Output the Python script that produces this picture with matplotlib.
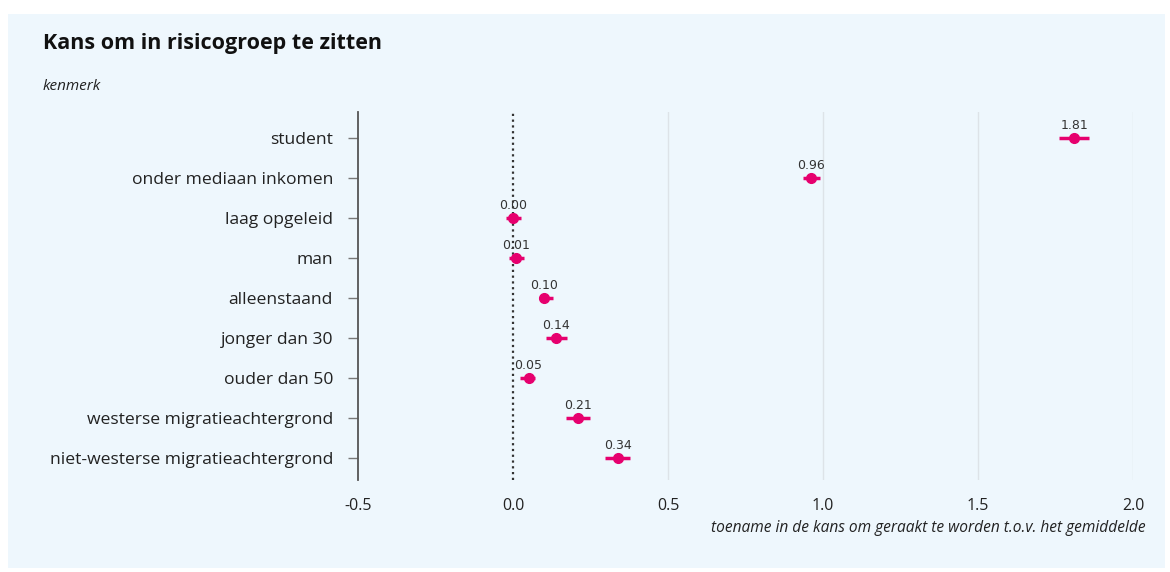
import matplotlib
matplotlib.use("Agg")
import matplotlib.pyplot as plt
from matplotlib.patches import Rectangle

categories = ["student", "onder mediaan inkomen", "laag opgeleid", "man", "alleenstaand",
              "jonger dan 30", "ouder dan 50", "westerse migratieachtergrond",
              "niet-westerse migratieachtergrond"]
estimates = [1.81, 0.96, 0.00, 0.01, 0.10, 0.14, 0.05, 0.21, 0.34]
ci_low = [1.76, 0.935, -0.023, -0.012, 0.085, 0.106, 0.023, 0.170, 0.297]
ci_high = [1.857, 0.99, 0.025, 0.036, 0.128, 0.174, 0.071, 0.248, 0.379]
xticks = [-0.5, 0.0, 0.5, 1.0, 1.5, 2.0]

FONT = ["Open Sans", "DejaVu Sans"]
bg = "#eef7fd"
pink = "#e6006e"

fig = plt.figure(figsize=(11.7, 5.72), dpi=100)
fig.patch.set_facecolor("white")
fig.patches.append(Rectangle((8/1170, 1-568/572), (1165-8)/1170, (568-14)/572,
                             transform=fig.transFigure, facecolor=bg, edgecolor="none", zorder=-10))

ax = fig.add_axes([358/1170, 1-480/572, (1133-358)/1170, (480-112)/572])
ax.set_facecolor("none")
ypos = list(range(len(categories)))

for x in [0.5, 1.0, 1.5, 2.0]:
    ax.axvline(x, color="#dde3e8", lw=1, zorder=0)
ax.axvline(0, color="#333333", lw=1.6, ls=(0, (1, 1.6)), zorder=1)

for y, e, lo, hi in zip(ypos, estimates, ci_low, ci_high):
    ax.plot([lo, hi], [y, y], color=pink, lw=2.5, solid_capstyle="butt", zorder=3)
    ax.plot([e], [y], "o", color=pink, ms=7, zorder=4)
    ax.text(e, y - 0.15, f"{e:.2f}", ha="center", va="bottom", fontsize=9,
            color="#333333", family=["DejaVu Sans"], zorder=5)

ax.set_xlim(-0.5, 2.0)
ax.set_ylim(8.55, -0.65)
ax.set_yticks(ypos)
ax.set_yticklabels(categories, family=FONT, fontsize=12.6, color="#222222")
ax.set_xticks(xticks)
ax.set_xticklabels([f"{t:.1f}" for t in xticks], family=FONT, fontsize=11.5, color="#222222")
ax.tick_params(axis="y", length=7, width=1, color="#777777", pad=11)
ax.tick_params(axis="x", length=0, pad=13)
for s in ["top", "right", "bottom"]:
    ax.spines[s].set_visible(False)
ax.spines["left"].set_color("#555555")
ax.spines["left"].set_linewidth(1.3)

fig.text(43/1170, 1-43/572, "Kans om in risicogroep te zitten", fontsize=15.5, fontweight="bold",
         family=FONT, color="#111111", va="center", ha="left")
fig.text(43/1170, 1-86/572, "kenmerk", fontsize=11, style="italic",
         family=FONT, color="#222222", va="center", ha="left")
fig.text(1146/1170, 1-528/572, "toename in de kans om geraakt te worden t.o.v. het gemiddelde",
         fontsize=11.2, style="italic", family=FONT, color="#222222", va="center", ha="right")

fig.savefig("out.png", dpi=100, facecolor=fig.get_facecolor())
